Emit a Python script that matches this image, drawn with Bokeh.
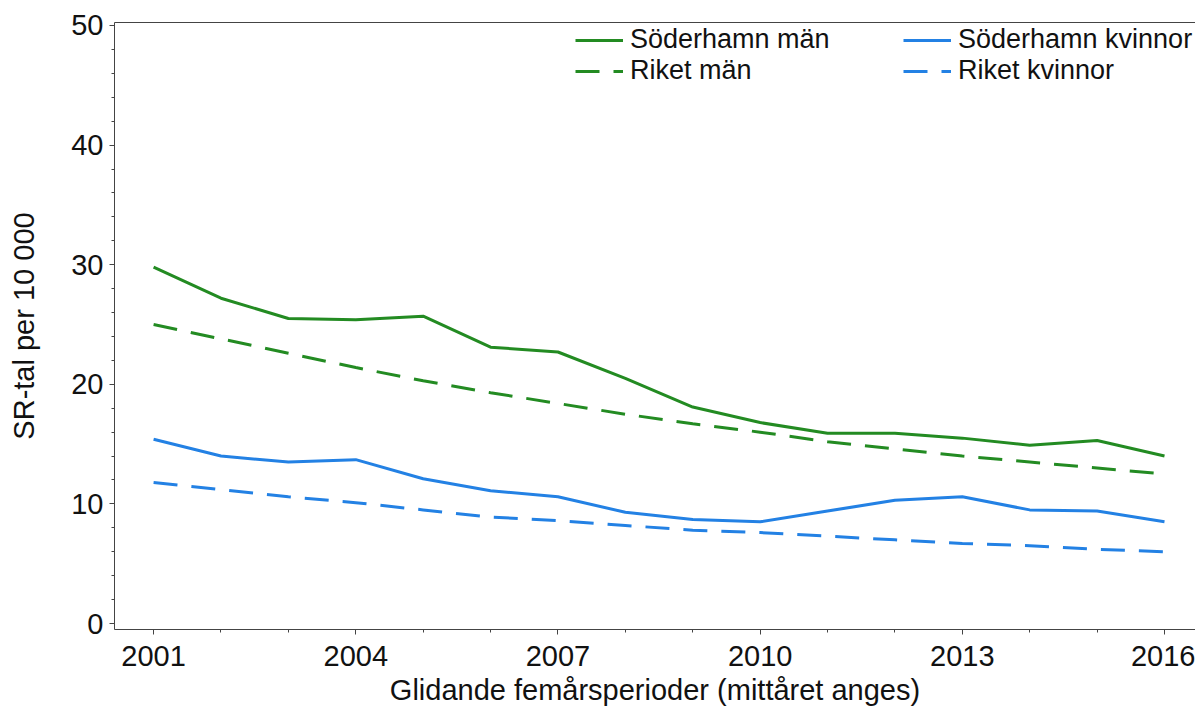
from bokeh.plotting import figure
from bokeh.models import FixedTicker, Legend, LegendItem, LinearAxis, Range1d
from bokeh.embed import file_html
from bokeh.resources import INLINE

years = list(range(2001, 2017))
soderhamn_man = [29.8, 27.2, 25.5, 25.4, 25.7, 23.1, 22.7, 20.5, 18.1, 16.8, 15.9, 15.9, 15.5, 14.9, 15.3, 14.0]
riket_man = [25.0, 23.8, 22.6, 21.4, 20.3, 19.3, 18.4, 17.5, 16.7, 16.0, 15.2, 14.6, 14.0, 13.5, 13.0, 12.5]
soderhamn_kvinnor = [15.4, 14.0, 13.5, 13.7, 12.1, 11.1, 10.6, 9.3, 8.7, 8.5, 9.4, 10.3, 10.6, 9.5, 9.4, 8.5]
riket_kvinnor = [11.8, 11.2, 10.6, 10.1, 9.5, 8.9, 8.6, 8.2, 7.8, 7.6, 7.3, 7.0, 6.7, 6.5, 6.2, 6.0]
x_ticks = [2001, 2004, 2007, 2010, 2013, 2016]
y_ticks = [0, 10, 20, 30, 40, 50]

GREEN = "#238b22"
BLUE = "#2381e4"
FONT = "Liberation Sans"

p = figure(width=1195, height=708, output_backend="svg", toolbar_location=None,
           x_range=Range1d(2000.42, 2016.46), y_range=Range1d(-0.5, 50.25),
           min_border_left=114, min_border_right=0, min_border_top=22, min_border_bottom=77)
p.grid.visible = False
p.outline_line_color = None
p.background_fill_color = "white"
p.border_fill_color = "white"

r1 = p.line(years, soderhamn_man, line_color=GREEN, line_width=3)
r2 = p.line(years, riket_man, line_color=GREEN, line_width=3, line_dash="24 14")
r3 = p.line(years, soderhamn_kvinnor, line_color=BLUE, line_width=3)
r4 = p.line(years, riket_kvinnor, line_color=BLUE, line_width=3, line_dash="24 14")

xa = p.xaxis[0]
xa.ticker = FixedTicker(ticks=x_ticks, minor_ticks=years)
ya = p.yaxis[0]
ya.ticker = FixedTicker(ticks=y_ticks, minor_ticks=list(range(0, 51, 2)))
for ax in (xa, ya):
    ax.axis_line_color = "#444444"
    ax.major_tick_line_color = "#444444"
    ax.minor_tick_line_color = "#444444"
    ax.major_tick_in = 0
    ax.minor_tick_in = 0
    ax.major_tick_out = 5
    ax.minor_tick_out = 3
    ax.major_label_text_font = FONT
    ax.major_label_text_font_size = "29px"
    ax.major_label_text_color = "#111111"
    ax.axis_label_text_font = FONT
    ax.axis_label_text_font_size = "29px"
    ax.axis_label_text_font_style = "normal"
    ax.axis_label_text_color = "#111111"
xa.axis_label = "Glidande femårsperioder (mittåret anges)"
ya.axis_label = "SR-tal per 10 000"
xa.major_label_standoff = 11
xa.axis_label_standoff = 5
ya.major_label_standoff = 6
ya.axis_label_standoff = 28

top = LinearAxis(ticker=FixedTicker(ticks=[]), major_label_text_font_size="0px",
                 major_tick_out=0, minor_tick_out=0, axis_line_color="#444444")
p.add_layout(top, "above")

def make_legend(items, loc):
    lg = Legend(items=items, location=loc, orientation="vertical")
    lg.label_text_font = FONT
    lg.label_text_font_size = "27px"
    lg.label_text_color = "#111111"
    lg.glyph_width = 48
    lg.glyph_height = 20
    lg.label_height = 20
    lg.spacing = 0
    lg.padding = 0
    lg.margin = 0
    lg.label_standoff = 7
    lg.border_line_color = None
    lg.background_fill_alpha = 0
    return lg

p.add_layout(make_legend([LegendItem(label="Söderhamn män", renderers=[r1]),
                          LegendItem(label="Riket män", renderers=[r2])], (461, 543)), "center")
p.add_layout(make_legend([LegendItem(label="Söderhamn kvinnor", renderers=[r3]),
                          LegendItem(label="Riket kvinnor", renderers=[r4])], (789, 543)), "center")

open("out.html", "w").write(file_html(p, INLINE))
